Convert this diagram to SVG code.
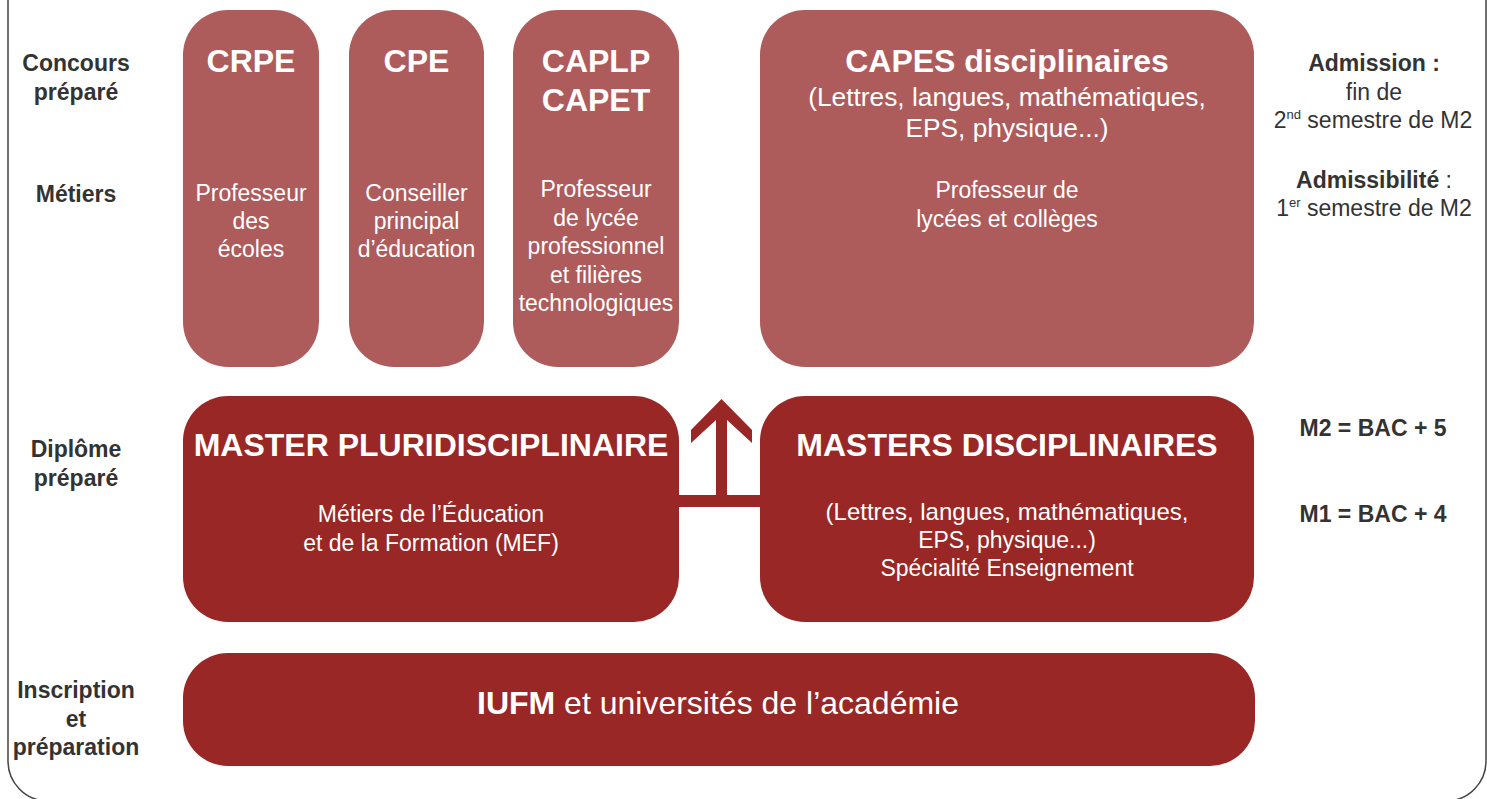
<svg xmlns="http://www.w3.org/2000/svg" width="1487" height="799" viewBox="0 0 1487 799">
<style>
  text { font-family: "Liberation Sans", Arial, Helvetica, sans-serif; }
  .light { fill: #AE5B5C; }
  .dark { fill: #982725; }
  .title { fill: #ffffff; font-weight: bold; font-size: 32px; text-anchor: middle; }
  .body { fill: #ffffff; font-size: 23px; text-anchor: middle; }
  .lbl { fill: #333333; font-weight: bold; font-size: 23px; text-anchor: middle; }
  .side { fill: #333333; font-size: 23px; text-anchor: middle; }
  .b { font-weight: bold; }
</style>
<rect x="0" y="0" width="1487" height="799" fill="#ffffff"/>
<path d="M8,-2 V760 A40,40 0 0 0 48,801 H1446 A40,40 0 0 0 1486,760 V-2" fill="none" stroke="#444444" stroke-width="1.5"/>

<g id="connectors">
  <rect class="dark" x="670" y="495" width="100" height="12"/>
  <polygon class="dark" points="721.5,399 752,430 752,443 727,420 727,496 716,496 716,420 691,443 691,430"/>
</g>

<g id="labels-left">
  <text class="lbl" x="76" y="71">Concours</text>
  <text class="lbl" x="76" y="100">préparé</text>
  <text class="lbl" x="76" y="202">Métiers</text>
  <text class="lbl" x="76" y="457">Diplôme</text>
  <text class="lbl" x="76" y="486">préparé</text>
  <text class="lbl" x="76" y="698">Inscription</text>
  <text class="lbl" x="76" y="727">et</text>
  <text class="lbl" x="76" y="755">préparation</text>
</g>

<g id="crpe">
  <rect class="light" x="183" y="10" width="136" height="357" rx="45" ry="45"/>
  <text class="title" x="251" y="72">CRPE</text>
  <text class="body" x="251" y="201">Professeur</text>
  <text class="body" x="251" y="229">des</text>
  <text class="body" x="251" y="257">écoles</text>
</g>

<g id="cpe">
  <rect class="light" x="349" y="10" width="135" height="357" rx="45" ry="45"/>
  <text class="title" x="416.5" y="72">CPE</text>
  <text class="body" x="416.5" y="201">Conseiller</text>
  <text class="body" x="416.5" y="229">principal</text>
  <text class="body" x="416.5" y="257">d’éducation</text>
</g>

<g id="caplp">
  <rect class="light" x="513" y="10" width="166" height="357" rx="45" ry="45"/>
  <text class="title" x="596" y="72">CAPLP</text>
  <text class="title" x="596" y="111">CAPET</text>
  <text class="body" x="596" y="197">Professeur</text>
  <text class="body" x="596" y="226">de lycée</text>
  <text class="body" x="596" y="254">professionnel</text>
  <text class="body" x="596" y="283">et filières</text>
  <text class="body" x="596" y="311">technologiques</text>
</g>

<g id="capes">
  <rect class="light" x="760" y="10" width="494" height="357" rx="45" ry="45"/>
  <text class="title" x="1007" y="72">CAPES disciplinaires</text>
  <text class="body" x="1007" y="106" style="font-size:26.3px">(Lettres, langues, mathématiques,</text>
  <text class="body" x="1007" y="137" style="font-size:26.3px">EPS, physique...)</text>
  <text class="body" x="1007" y="198">Professeur de</text>
  <text class="body" x="1007" y="227">lycées et collèges</text>
</g>

<g id="master-pluri">
  <rect class="dark" x="183" y="396" width="496" height="226" rx="45" ry="45"/>
  <text class="title" x="431" y="456">MASTER PLURIDISCIPLINAIRE</text>
  <text class="body" x="431" y="522">Métiers de l’Éducation</text>
  <text class="body" x="431" y="551">et de la Formation (MEF)</text>
</g>

<g id="masters-disc">
  <rect class="dark" x="760" y="396" width="494" height="226" rx="45" ry="45"/>
  <text class="title" x="1007" y="456">MASTERS DISCIPLINAIRES</text>
  <text class="body" x="1007" y="520" style="font-size:24px">(Lettres, langues, mathématiques,</text>
  <text class="body" x="1007" y="548">EPS, physique...)</text>
  <text class="body" x="1007" y="576">Spécialité Enseignement</text>
</g>

<g id="iufm">
  <rect class="dark" x="183" y="653" width="1072" height="113" rx="45" ry="45"/>
  <text class="body" x="718" y="714" style="font-size:32px"><tspan class="b">IUFM</tspan> et universités de l’académie</text>
</g>

<g id="labels-right">
  <text class="side" x="1374" y="71"><tspan class="b">Admission :</tspan></text>
  <text class="side" x="1374" y="100">fin de</text>
  <text class="side" x="1373" y="128">2<tspan dy="-9" font-size="13">nd</tspan><tspan dy="9"> semestre de M2</tspan></text>
  <text class="side" x="1374" y="188"><tspan class="b">Admissibilité</tspan> :</text>
  <text class="side" x="1374" y="216">1<tspan dy="-9" font-size="13">er</tspan><tspan dy="9"> semestre de M2</tspan></text>
  <text class="side b" x="1373" y="436">M2 = BAC + 5</text>
  <text class="side b" x="1373" y="522">M1 = BAC + 4</text>
</g>
</svg>
